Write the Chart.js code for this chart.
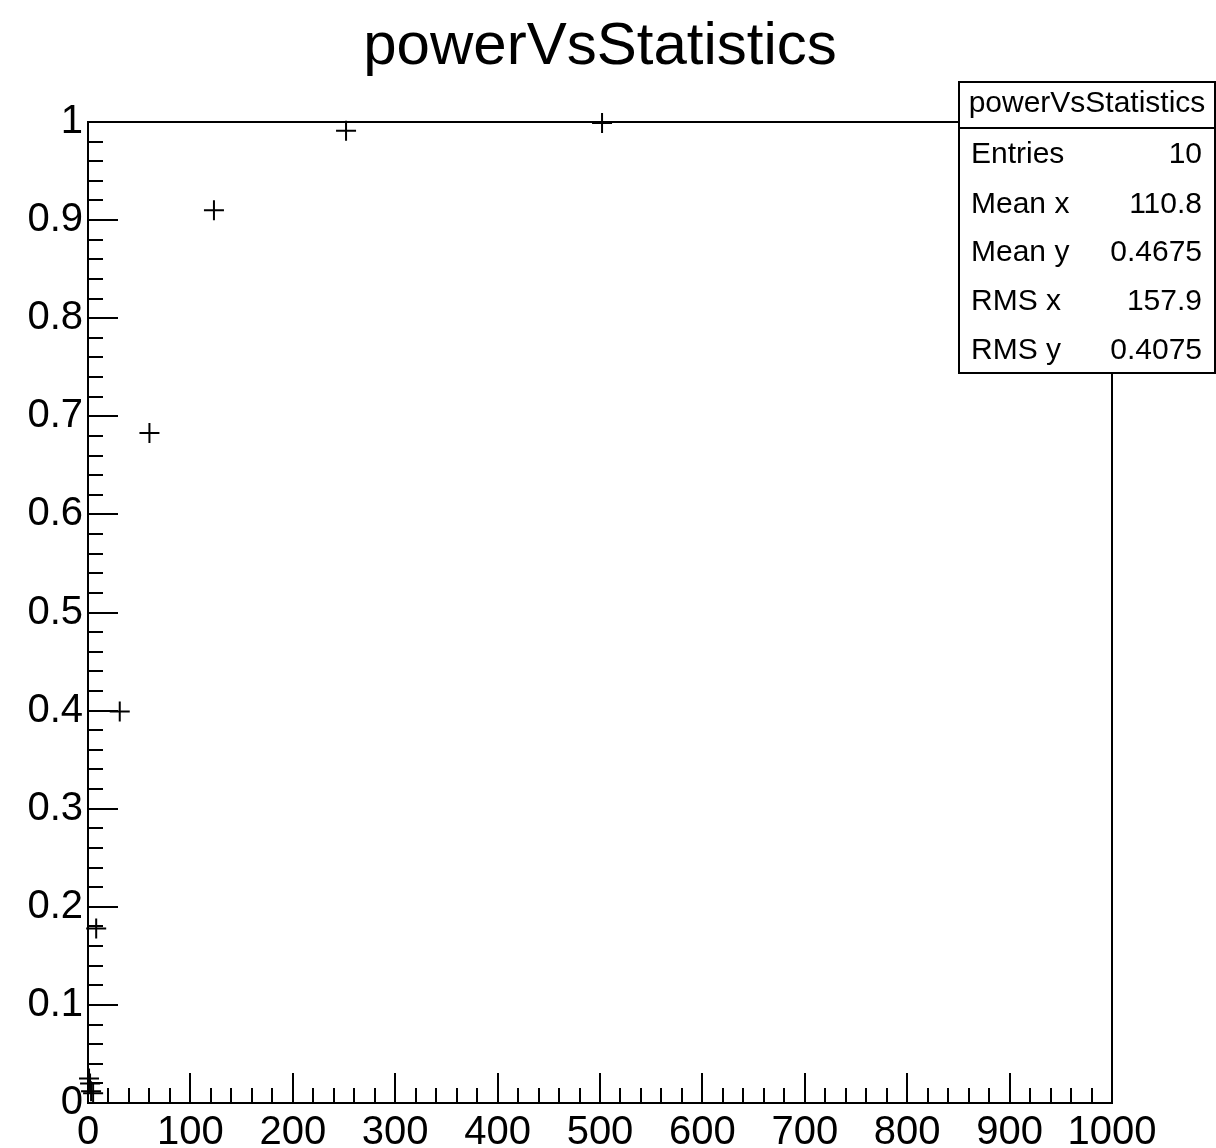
<!DOCTYPE html>
<html>
<head>
<meta charset="utf-8">
<script src="https://cdn.jsdelivr.net/npm/chart.js@4"></script>
<style>
  html, body { margin: 0; padding: 0; background: #ffffff; }
  #wrap { width: 1216px; height: 1148px; position: relative; }
</style>
</head>
<body>
<div id="wrap"><canvas id="c" width="1216" height="1148"></canvas></div>
<script>
// ---- data ----
const chartTitle = "powerVsStatistics";
const xValues = [1, 2, 3, 5, 8, 31, 60, 123, 252, 502];
const yValues = [0.025, 0.02, 0.012, 0.01, 0.178, 0.399, 0.683, 0.910, 0.991, 0.999];
const xTickValues = [0, 100, 200, 300, 400, 500, 600, 700, 800, 900, 1000];
const yTickValues = [0, 0.1, 0.2, 0.3, 0.4, 0.5, 0.6, 0.7, 0.8, 0.9, 1];
const statsTitle = "powerVsStatistics";
const statsLabels = ["Entries", "Mean x", "Mean y", "RMS x", "RMS y"];
const statsValues = ["10", "110.8", "0.4675", "157.9", "0.4075"];

const FONT = "'Liberation Sans', Arial, Helvetica, sans-serif";

const points = xValues.map((x, i) => ({ x: x, y: yValues[i] }));

// frame + inside ticks + stats box
const rootStyle = {
  id: 'rootStyle',
  afterDatasetsDraw(chart) {
    const ctx = chart.ctx;
    const a = chart.chartArea;
    const xs = chart.scales.x, ys = chart.scales.y;
    ctx.save();
    ctx.strokeStyle = '#000';
    ctx.lineWidth = 2;
    ctx.strokeRect(a.left, a.top, a.right - a.left, a.bottom - a.top);
    ctx.beginPath();
    for (let k = 0; k <= 50; k++) {
      const v = k * 0.02;
      const py = Math.round(ys.getPixelForValue(v));
      const len = (k % 5 === 0) ? 30 : 15;
      ctx.moveTo(a.left, py);
      ctx.lineTo(a.left + len, py);
    }
    for (let k = 0; k <= 50; k++) {
      const v = k * 20;
      const px = Math.round(xs.getPixelForValue(v));
      const len = (k % 5 === 0) ? 30 : 15;
      ctx.moveTo(px, a.bottom);
      ctx.lineTo(px, a.bottom - len);
    }
    ctx.stroke();
    ctx.restore();
  },
  afterDraw(chart) {
    const ctx = chart.ctx;
    ctx.save();
    const bx = 959, by = 82, bw = 256, bh = 291;
    ctx.fillStyle = '#fff';
    ctx.fillRect(bx, by, bw, bh);
    ctx.strokeStyle = '#000';
    ctx.lineWidth = 2;
    ctx.strokeRect(bx, by, bw, bh);
    ctx.beginPath();
    ctx.moveTo(bx, 128);
    ctx.lineTo(bx + bw, 128);
    ctx.stroke();
    ctx.fillStyle = '#000';
    ctx.font = "30px " + FONT;
    ctx.textBaseline = 'middle';
    ctx.textAlign = 'center';
    ctx.fillText(statsTitle, bx + bw / 2, 104);
    const rows = [155, 205, 253, 302, 351];
    ctx.font = "30px " + FONT;
    statsLabels.forEach((lab, i) => {
      ctx.textAlign = 'left';
      ctx.fillText(lab, 971, rows[i]);
      ctx.textAlign = 'right';
      ctx.fillText(statsValues[i], 1202, rows[i]);
    });
    ctx.restore();
  }
};

new Chart(document.getElementById('c'), {
  type: 'scatter',
  data: {
    datasets: [{
      data: points,
      pointStyle: 'cross',
      pointRadius: 10,
      pointHoverRadius: 10,
      pointBorderWidth: 2,
      borderColor: '#000',
      backgroundColor: '#000',
      showLine: false,
      clip: false
    }]
  },
  options: {
    responsive: false,
    animation: false,
    devicePixelRatio: 1,
    layout: { padding: { left: 0, right: 16, top: 0, bottom: 0 } },
    plugins: {
      legend: { display: false },
      tooltip: { enabled: false },
      title: {
        display: true,
        text: chartTitle,
        color: '#000',
        font: { family: FONT, size: 60, weight: 'normal', lineHeight: 1.2 },
        padding: { top: 11, bottom: 39 }
      }
    },
    scales: {
      x: {
        type: 'linear',
        min: 0, max: 1000,
        afterBuildTicks(s) { s.ticks = xTickValues.map(v => ({ value: v })); },
        afterFit(s) { s.height = 45; },
        border: { display: false },
        grid: { display: false, drawTicks: false },
        ticks: {
          autoSkip: false, maxRotation: 0, padding: 6,
          color: '#000',
          font: { family: FONT, size: 40 },
          callback: (v) => String(Math.round(v))
        }
      },
      y: {
        type: 'linear',
        min: 0, max: 1,
        afterBuildTicks(s) { s.ticks = yTickValues.map(v => ({ value: v })); },
        afterFit(s) { s.width = 88; },
        border: { display: false },
        grid: { display: false, drawTicks: false },
        ticks: {
          autoSkip: false, padding: 5,
          color: '#000',
          font: { family: FONT, size: 40 },
          callback: (v) => String(Math.round(v * 10) / 10)
        }
      },
      yRight: {
        type: 'linear',
        position: 'right',
        min: 0, max: 1,
        afterFit(s) { s.width = 88; },
        border: { display: false },
        grid: { display: false, drawTicks: false },
        ticks: { display: false }
      }
    }
  },
  plugins: [rootStyle]
});
</script>
</body>
</html>
